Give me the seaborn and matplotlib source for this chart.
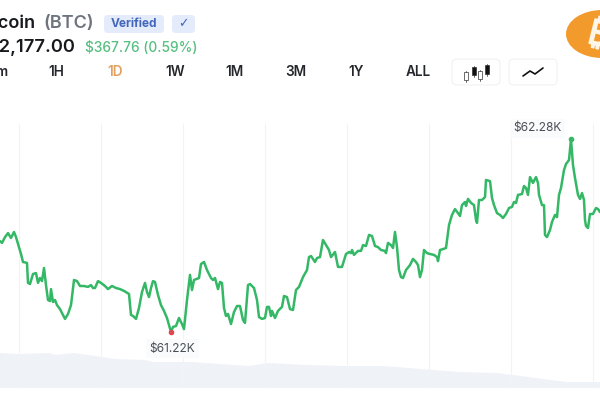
import matplotlib
matplotlib.use("Agg")
import matplotlib.pyplot as plt
import matplotlib.patheffects as pe
import seaborn as sns
import pandas as pd
from matplotlib.patches import FancyBboxPatch, Rectangle, Ellipse

# ---- data ----
time_step = [0,2,5,8,11,14,16,19,21,23,27,28,30,33,36,38,40,42,44,46,48,50,51,53,55,57,60,63,65,68,71,74,77,80,84,88,91,93,95,98,
101,105,108,112,116,120,124,129,131,133,136,139,142,145,147,149,151,153,155,158,161,164,167,171,173,176,179,182,184,187,190,192,194,199,
201,204,207,211,213,215,218,220,222,224,226,228,231,234,237,240,243,245,248,250,254,257,259,262,265,267,269,271,272,275,278,282,284,287,290,293,296,299,
303,307,309,311,315,317,320,323,326,329,331,335,338,342,346,349,351,352,354,358,361,363,366,369,372,375,378,381,385,386,388,391,393,395,397,399,
401,403,406,410,413,416,418,420,422,424,427,430,434,437,438,440,443,446,449,452,455,458,460,462,465,466,468,471,474,476,477,479,482,485,486,490,492,494,497,
500,503,506,509,512,514,516,518,522,524,526,528,530,533,536,538,539,542,544,545,547,550,552,555,557,559,561,564,566,569,571,573,575,578,580,582,584,585,586,588,590,593,596,598,600]
price = [61720,61710,61742,61764,61737,61770,61742,61687,61649,61605,61600,61490,61484,61539,61544,61490,61517,61500,61572,61478,61396,61390,61456,61385,61396,61368,61346,61314,61292,61319,61368,61506,61500,61473,61473,61468,61478,61462,61462,61500,
61490,61473,61456,61473,61462,61456,61446,61429,61314,61308,61292,61352,61440,61490,61440,61412,61462,61500,61495,61424,61368,61336,61297,61220,61248,61253,61297,61264,61236,61396,61534,61451,61506,61517,
61594,61605,61561,61517,61506,61517,61456,61495,61490,61352,61308,61319,61264,61330,61363,61363,61286,61270,61478,61484,61462,61396,61302,61292,61297,61358,61358,61308,61336,61297,61336,61358,61418,61412,61346,61341,61451,61468,
61522,61561,61632,61638,61605,61627,61632,61726,61698,61671,61632,61660,61578,61578,61649,61660,61654,61671,61644,61666,61666,61698,61693,61754,61748,61693,61687,61671,61666,61654,61710,61698,61682,61770,61687,61561,
61522,61517,61561,61588,61622,61605,61588,61522,61561,61671,61654,61649,61644,61632,61610,61671,61676,61682,61808,61864,61896,61874,61858,61918,61935,61913,61952,61930,61918,61836,61820,61946,61946,61962,62056,62050,61957,61918,61874,
61864,61847,61869,61902,61908,61935,61930,61974,61979,62023,62012,61974,62072,62040,62072,62040,61974,61918,61918,61754,61742,61781,61825,61864,61852,61974,62012,62111,62144,62166,62280,62138,62067,61974,61952,61984,61946,61836,61803,61792,61869,61869,61902,61896,61880]
volume_step = [0,19,50,55,73,96,115,145,153,191,249,268,306,344,383,421,459,497,536,566,600]
volume = [35,34,35,33,35,32,29,28,26,26,22,25,23,22,22,19,16,15,10,6,6]
grid_step = [19,101,183,265,347,429,511,593]
low_step, low_price, low_label = 171, 61220, "$61.22K"
high_step, high_price, high_label = 571, 62280, "$62.28K"
timeframes = ["1m","1H","1D","1W","1M","3M","1Y","ALL"]
timeframe_pos = [7,56,115,175,235,296,356,418]

FONT = "Inter"
sns.set_style("white")
plt.rcParams["font.family"] = [FONT, "DejaVu Sans"]

fig = plt.figure(figsize=(6, 4), dpi=100, facecolor="white")

# volume band
vax = fig.add_axes([0, 0, 1, 1])
vax.set_xlim(0, 600); vax.set_ylim(-12, 388); vax.axis("off")
vax.fill_between(volume_step, 0, volume, color="#eff2f7", lw=0)

# price line
ax = fig.add_axes([0, 0, 1, 1], facecolor="none")
ax.set_xlim(0, 600); ax.set_ylim(60846, 63046); ax.axis("off")
ax.vlines(grid_step, 60912, 62370, color="#f1f3f5", lw=0.8, zorder=1)
df = pd.DataFrame({"t": time_step, "price": price})
sns.lineplot(data=df, x="t", y="price", ax=ax, color="#34b866", lw=1.8, zorder=3, legend=False,
             solid_joinstyle="round")
ax.plot([low_step], [low_price], "o", ms=3, color="#e0474c", zorder=4)
ax.plot([high_step], [high_price], "o", ms=3, color="#34b866", zorder=4)
box = dict(boxstyle="square,pad=0.3", fc="#fafbfc", ec="none")
ax.annotate(low_label, (low_step, low_price), xytext=(1, -12), textcoords="offset points",
            ha="center", va="center", fontsize=8.6, color="#4a4f57", bbox=box, zorder=5)
ax.annotate(high_label, (high_step, high_price), xytext=(-24, 8), textcoords="offset points",
            ha="center", va="center", fontsize=8.6, color="#4a4f57", bbox=box, zorder=2)

# header overlay
h = fig.add_axes([0, 0, 1, 1], facecolor="none")
h.set_xlim(0, 600); h.set_ylim(400, 0); h.axis("off")
h.text(36, 23, "Bitcoin", ha="right", va="center", fontsize=13, fontweight="semibold", color="#17191d")
h.text(43, 23, "(BTC)", ha="left", va="center", fontsize=13, fontweight="semibold", color="#6f7580")
def badge(x0, y0, w, ht, fc, ec="none", r=4):
    h.add_patch(FancyBboxPatch((x0 + r, y0 + r), w - 2 * r, ht - 2 * r, boxstyle=f"round,pad={r},rounding_size={r}",
                               fc=fc, ec=ec, lw=0.8, mutation_aspect=1))
badge(104, 15, 60, 18, "#e4ecfb")
h.text(134, 24, "Verified", ha="center", va="center", fontsize=8.6, fontweight="bold", color="#4467bb")
badge(172, 15, 23, 18, "#e4ecfb")
h.text(183.5, 24, "\u2713", ha="center", va="center", fontsize=9, color="#4467bb", family="DejaVu Sans")
h.text(75, 47, "$62,177.00", ha="right", va="center", fontsize=13.2, fontweight="semibold", color="#17191d")
h.text(85, 48, "$367.76 (0.59%)", ha="left", va="center", fontsize=9.9, fontweight="medium", color="#55c080")
for lab, x in zip(timeframes, timeframe_pos):
    col = "#e0a060" if lab == "1D" else "#24272c"
    ha = "right" if lab == "1m" else "center"
    h.text(x, 72, lab[-1] if lab == "1m" else lab, ha=ha, va="center", fontsize=9.8, fontweight="semibold", color=col)
badge(452, 59, 48, 26, "white", "#f0f1f3", r=5)
badge(509, 59, 48, 26, "white", "#f0f1f3", r=5)
for x0, y0, w, ht, filled in [(464, 72, 4, 8, False), (471.5, 67, 4, 8, True), (478, 71, 4, 8, False), (484.5, 65, 4, 9, True)]:
    h.plot([x0 + w / 2] * 2, [y0 - 1.5, y0 + ht + 1.5], color="#222", lw=0.5)
    h.add_patch(Rectangle((x0, y0), w, ht, fc="#111" if filled else "white", ec="#333", lw=0.5, zorder=3))
h.plot([523, 530, 535, 543], [76, 71, 74, 68], color="#111", lw=1.2)
h.add_patch(Ellipse((602, 34), 72, 48, fc="#f39a2c", ec="none"))
h.text(598, 35, "\u20bf", ha="center", va="center", fontsize=25, fontweight="normal", color="#fff6e8",
       rotation=-14, family=["DejaVu Sans", "Noto Sans", "Roboto", "Liberation Sans"],
       path_effects=[pe.withStroke(linewidth=1.2, foreground="#fff6e8")])

fig.savefig("out.png", dpi=100)
